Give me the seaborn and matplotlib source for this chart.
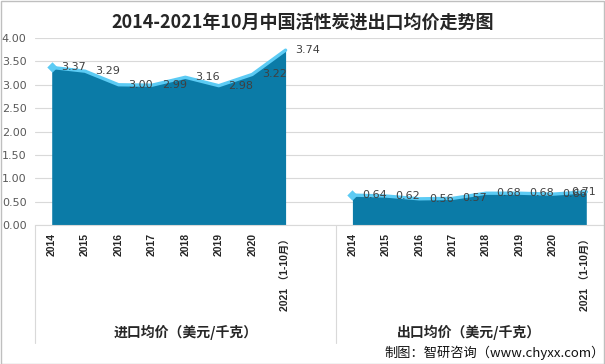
import matplotlib
matplotlib.use("Agg")
import matplotlib.pyplot as plt
import seaborn as sns
import pandas as pd
import numpy as np
from matplotlib.patches import Rectangle

sns.set_theme(style="white")
plt.rcParams['font.family'] = ['DejaVu Sans', 'Noto Sans CJK SC']

title = "2014-2021年10月中国活性炭进出口均价走势图"
years = ["2014", "2015", "2016", "2017", "2018", "2019", "2020", "2021 （1-10月）"]
import_price = [3.37, 3.29, 3.00, 2.99, 3.16, 2.98, 3.22, 3.74]
export_price = [0.64, 0.62, 0.56, 0.57, 0.68, 0.68, 0.66, 0.71]
groups = ["进口均价（美元/千克）", "出口均价（美元/千克）"]
source = "制图：智研咨询（www.chyxx.com）"

area_color = "#0B7BA7"
line_color = "#5CCBF4"

n = len(years)
df = pd.DataFrame({
    "pos": list(range(n)) + list(range(n + 1, 2 * n + 1)),
    "value": import_price + export_price,
    "group": [groups[0]] * n + [groups[1]] * n,
})

fig = plt.figure(figsize=(6.05, 3.64), dpi=100)
W, H = 605, 364
left, right, y0, y4 = 35, 603, 225, 38
ax = fig.add_axes([left / W, (H - y0) / H, (right - left) / W, (y0 - y4) / H])

for g in groups:
    sub = df[df["group"] == g]
    ax.fill_between(sub["pos"], 0, sub["value"], color=area_color, lw=0, zorder=2)
sns.lineplot(data=df, x="pos", y="value", units="group", estimator=None,
             color=line_color, lw=2.4, ax=ax, zorder=3, legend=False)
for g in groups:
    sub = df[df["group"] == g].iloc[:1]
    ax.scatter(sub["pos"], sub["value"], marker="D", s=28, color=line_color,
               zorder=4, lw=0)

last = len(df) - 1
for i, (x, v) in enumerate(zip(df["pos"], df["value"])):
    if i == last:
        ax.annotate(f"{v:.2f}", ((596 - left) / (right - left), v),
                    xycoords=("axes fraction", "data"), ha="right", va="center",
                    fontsize=8, color="#404040", zorder=5)
    else:
        ax.annotate(f"{v:.2f}", (x, v), xytext=(7, 0), textcoords="offset points",
                    ha="left", va="center", fontsize=8, color="#404040", zorder=5)

ax.set_xlim(-0.5, 2 * n + 0.5)
ax.set_ylim(0, 4)
ax.set_yticks(np.arange(0, 4.01, 0.5))
ax.set_yticklabels([f"{t:.2f}" for t in np.arange(0, 4.01, 0.5)],
                   fontsize=8, color="#595959")
ax.yaxis.grid(True, color="#D9D9D9", lw=0.8)
ax.set_axisbelow(True)
ax.tick_params(axis="y", length=0, pad=6)
ax.tick_params(axis="x", length=0, pad=6)
ax.set_xticks(df["pos"])
ax.set_xticklabels(years + years, rotation=90, va="top", ha="center",
                   fontsize=7.5, fontweight="bold", color="#262626",
                   family=["Liberation Sans", "Noto Sans CJK SC"])
ax.set_xlabel("")
ax.set_ylabel("")
for s in ["left", "right", "top"]:
    ax.spines[s].set_visible(False)
ax.spines["bottom"].set_color("#D9D9D9")
ax.spines["bottom"].set_linewidth(0.8)

trans = ax.get_xaxis_transform()
sep_bottom = -(343 - y0) / (y0 - y4)
for xs in [-0.5, n + 0.5]:
    ax.plot([xs, xs], [0, sep_bottom], transform=trans, clip_on=False,
            color="#D9D9D9", lw=0.8)
lab_y = -(332 - y0) / (y0 - y4)
ax.text((n - 1) / 2 + 0.5, lab_y, groups[0], transform=trans, ha="center",
        va="center", fontsize=10, fontweight="bold", color="#262626",
        family=["Noto Sans CJK SC"])
ax.text(n + 1 + (n - 1) / 2, lab_y, groups[1], transform=trans, ha="center",
        va="center", fontsize=10, fontweight="bold", color="#262626",
        family=["Noto Sans CJK SC"])

fig.text(0.5, 1 - 22 / H, title, ha="center", va="center", fontsize=13,
         fontweight="bold", color="#262626",
         family=["Noto Sans CJK SC", "DejaVu Sans"])
fig.text(1.0, 1 - 353 / H, source, ha="right", va="center", fontsize=9.5,
         color="#111111", family=["Noto Sans CJK SC", "DejaVu Sans"])

fig.patches.append(Rectangle((0.5 / W, 0.5 / H), 1 - 1.5 / W, 1 - 1.5 / H,
                             transform=fig.transFigure, fill=False,
                             edgecolor="#BFBFBF", lw=1))

fig.savefig("out.png", dpi=100)
